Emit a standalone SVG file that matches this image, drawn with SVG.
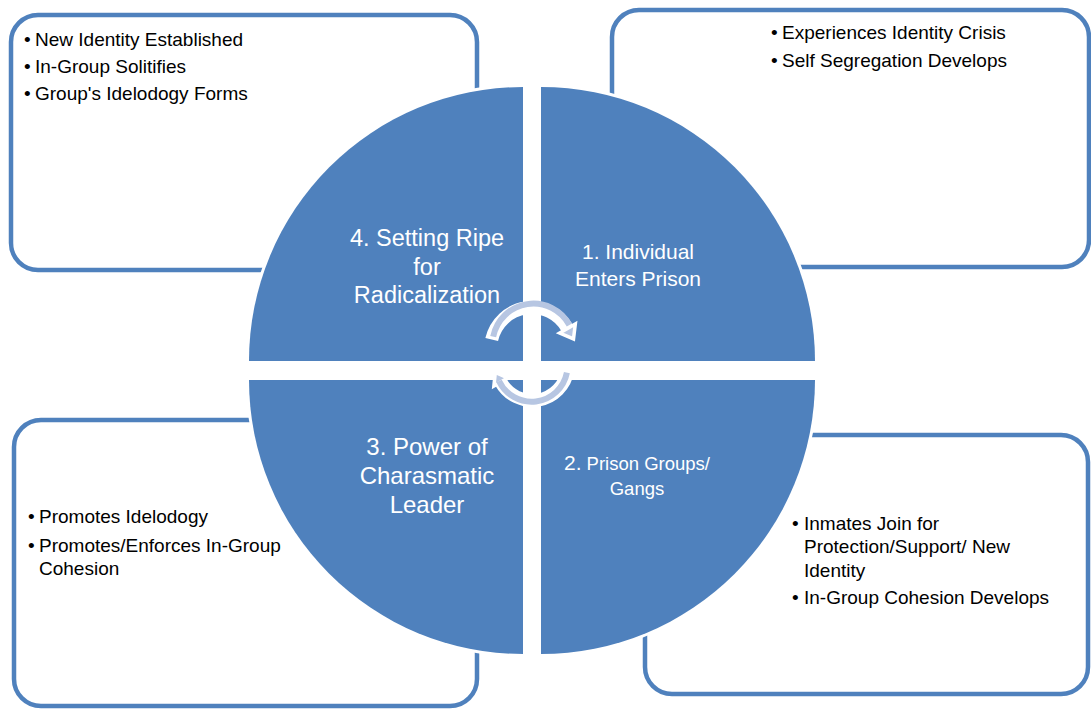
<svg xmlns="http://www.w3.org/2000/svg" width="1091" height="709" viewBox="0 0 1091 709">
<style>
.box{fill:#fff;stroke:#4f81bd;stroke-width:4.5}
.halo{fill:#fff;stroke:#fff;stroke-width:6;stroke-linejoin:round}
.quad{fill:#4f81bd}
.bt{font-family:"Liberation Sans",Arial,sans-serif;font-size:19px;fill:#000}
.lbl{font-family:"Liberation Sans",Arial,sans-serif;fill:#fff;text-anchor:middle}
.aw{fill:none;stroke:#fff;stroke-width:13}
.al{fill:none;stroke:#b7c6e2;stroke-width:6}
.ah{fill:#b7c6e2;stroke:#fff;stroke-width:3.5;stroke-linejoin:miter}
</style>
<rect width="1091" height="709" fill="#fff"/>

<g id="box4">
<rect class="box" x="11" y="15" width="466" height="255" rx="27"/>
<text class="bt" x="24" y="46">•</text><text class="bt" x="35" y="46">New Identity Established</text>
<text class="bt" x="24" y="73">•</text><text class="bt" x="35" y="73">In-Group Solitifies</text>
<text class="bt" x="24" y="100">•</text><text class="bt" x="35" y="100">Group's Idelodogy Forms</text>
</g>
<g id="box1">
<rect class="box" x="612" y="10" width="477" height="257" rx="27"/>
<text class="bt" x="771" y="39">•</text><text class="bt" x="782" y="39">Experiences Identity Crisis</text>
<text class="bt" x="771" y="67">•</text><text class="bt" x="782" y="67">Self Segregation Develops</text>
</g>
<g id="box3">
<rect class="box" x="14" y="420" width="463" height="286" rx="27"/>
<text class="bt" x="28" y="523">•</text><text class="bt" x="39" y="523">Promotes Idelodogy</text>
<text class="bt" x="28" y="552">•</text><text class="bt" x="39" y="552">Promotes/Enforces In-Group</text>
<text class="bt" x="39" y="575">Cohesion</text>
</g>
<g id="box2">
<rect class="box" x="645" y="435" width="443" height="259" rx="27"/>
<text class="bt" x="792" y="530">•</text><text class="bt" x="804" y="530">Inmates Join for</text>
<text class="bt" x="804" y="553">Protection/Support/ New</text>
<text class="bt" x="804" y="577">Identity</text>
<text class="bt" x="792" y="604">•</text><text class="bt" x="804" y="604">In-Group Cohesion Develops</text>
</g>

<g id="seg4">
<path class="halo" d="M523,361 L249,361 A274,274 0 0 1 523,87 Z"/>
<path class="quad" d="M523,361 L249,361 A274,274 0 0 1 523,87 Z"/>
<text class="lbl" font-size="23.5"><tspan x="427" y="246">4. Setting Ripe</tspan><tspan x="427" y="275">for</tspan><tspan x="427" y="303">Radicalization</tspan></text>
</g>
<g id="seg1">
<path class="halo" d="M541,361 L541,87 A274,274 0 0 1 815,361 Z"/>
<path class="quad" d="M541,361 L541,87 A274,274 0 0 1 815,361 Z"/>
<text class="lbl" font-size="21"><tspan x="638" y="259">1. Individual</tspan><tspan x="638" y="286">Enters Prison</tspan></text>
</g>
<g id="seg2">
<path class="halo" d="M541,380 L815,380 A274,274 0 0 1 541,654 Z"/>
<path class="quad" d="M541,380 L815,380 A274,274 0 0 1 541,654 Z"/>
<text class="lbl" x="637" y="470"><tspan font-size="21">2.</tspan><tspan font-size="18.5"> Prison Groups/</tspan></text>
<text class="lbl" font-size="18.5" x="637" y="495">Gangs</text>
</g>
<g id="seg3">
<path class="halo" d="M523,380 L523,654 A274,274 0 0 1 249,380 Z"/>
<path class="quad" d="M523,380 L523,654 A274,274 0 0 1 249,380 Z"/>
<text class="lbl" font-size="24"><tspan x="427" y="455">3. Power of</tspan><tspan x="427" y="484">Charasmatic</tspan><tspan x="427" y="513">Leader</tspan></text>
</g>

<g id="connectors">
<path class="aw" d="M491.7,339.5 A41,41 0 0 1 567.5,328.5"/>
<polygon class="ah" points="575.3,324 573.5,338.9 559.7,333"/>
<path class="al" d="M493.2,336.6 A41,41 0 0 1 569.4,325"/>
<path class="aw" d="M567.8,370.4 A36,36 0 0 1 500.8,382"/>
<polygon class="ah" points="493.9,386 495.3,372.5 507.7,378"/>
<path class="al" d="M566.9,372.7 A36,36 0 0 1 499,381"/>
</g>
</svg>
